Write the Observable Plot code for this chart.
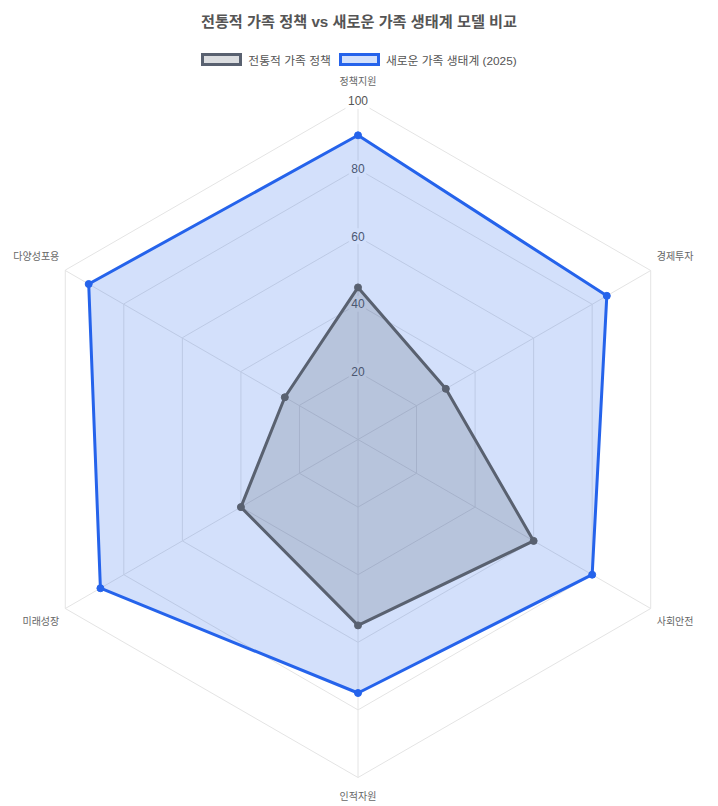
<!DOCTYPE html>
<html lang="ko">
<head>
<meta charset="utf-8">
<script src="https://cdn.jsdelivr.net/npm/d3@7"></script>
<script src="https://cdn.jsdelivr.net/npm/@observablehq/plot@0.6"></script>
<style>
  html, body { margin: 0; padding: 0; background: #fff; }
  body { width: 718px; height: 806px; overflow: hidden;
         font-family: "Liberation Sans", "Noto Sans CJK KR", sans-serif; }
  #title { height: 44px; line-height: 44px; text-align: center;
           font-size: 15.2px; font-weight: bold; color: #555; }
  #legend { height: 30px; display: flex; justify-content: center; align-items: center;
            gap: 8px; font-size: 11.8px; color: #555; }
  .item { display: flex; align-items: center; gap: 6px; }
  .swatch { box-sizing: border-box; width: 41px; height: 13px; border: 3px solid; }
  #chart svg { display: block; }
</style>
</head>
<body>
<div id="title"></div>
<div id="legend"></div>
<div id="chart"></div>
<script>
// Axes of the radar, clockwise from the top
const axes = ["정책지원", "경제투자", "사회안전", "인적자원", "미래성장", "다양성포용"];
// Scores per axis (0–100)
const traditional = [45, 30, 60, 55, 40, 25];
const ecosystem2025 = [90, 85, 80, 75, 88, 92];
const seriesNames = ["전통적 가족 정책", "새로운 가족 생태계 (2025)"];
const ticks = [20, 40, 60, 80, 100];
const titleText = "전통적 가족 정책 vs 새로운 가족 생태계 모델 비교";

const colors = [
  {stroke: "#596170", fill: "rgb(75,85,99)"},
  {stroke: "#2563eb", fill: "rgb(37,99,235)"}
];

document.getElementById("title").textContent = titleText;
const legend = document.getElementById("legend");
seriesNames.forEach((name, i) => {
  const item = document.createElement("div");
  item.className = "item";
  const sw = document.createElement("span");
  sw.className = "swatch";
  sw.style.borderColor = colors[i].stroke;
  sw.style.background = colors[i].fill.replace("rgb", "rgba").replace(")", ",0.2)");
  const label = document.createElement("span");
  label.textContent = name;
  item.append(sw, label);
  legend.append(item);
});

// Layout: pixels per score unit, plot size and centre
const W = 718, H = 732;
const R = 338;                 // radius of the 100 ring, px
const k = R / 100;
const cx = 357.5, cy = 365;

const angle = i => (i * 2 * Math.PI) / axes.length;
const px = (v, i) => v * Math.sin(angle(i));
const py = (v, i) => v * Math.cos(angle(i));

const ring = ticks.flatMap(t => axes.map((a, i) => ({t, x: px(t, i), y: py(t, i)})));
const spokes = axes.map((a, i) => ({x2: px(100, i), y2: py(100, i)}));

const series = [traditional, ecosystem2025].map((vals, s) =>
  vals.map((v, i) => ({s, axis: axes[i], v, x: px(v, i), y: py(v, i)}))
);

// Axis label placement around the outer ring
const axisLabels = axes.map((a, i) => {
  const sn = Math.sin(angle(i)), cs = Math.cos(angle(i));
  const side = Math.abs(sn) < 1e-6 ? 0 : Math.sign(sn);
  return {
    label: a, x: px(100, i), y: py(100, i),
    anchor: side === 0 ? "middle" : side > 0 ? "start" : "end",
    dx: side * 6,
    dy: side === 0 ? -cs * 19.5 : -cs * 27
  };
});

// Tick label backdrops (text width estimated from digit count)
const backdrops = ticks.map(t => {
  const half = (String(t).length * 6.7 / 2 + 2) / k;
  return {t, x1: -half, x2: half, y1: t - 8 / k, y2: t + 8 / k};
});

// Later datasets are painted first so the first one sits on top
const order = [1, 0];

const chart = Plot.plot({
  width: W, height: H,
  margin: 0,
  x: {domain: [-cx / k, (W - cx) / k], axis: null},
  y: {domain: [-(H - cy) / k, cy / k], axis: null},
  style: {fontFamily: '"Liberation Sans", "Noto Sans CJK KR", sans-serif', background: "transparent"},
  marks: [
    Plot.line(ring, {x: "x", y: "y", z: "t", curve: "linear-closed", stroke: "#e4e4e4", strokeWidth: 1}),
    Plot.link(spokes, {x1: 0, y1: 0, x2: "x2", y2: "y2", stroke: "#e4e4e4", strokeWidth: 1}),
    Plot.rect(backdrops, {x1: "x1", x2: "x2", y1: "y1", y2: "y2", fill: "white", fillOpacity: 0.9}),
    Plot.text(ticks, {x: 0, y: d => d, text: d => String(d), fill: "#555", fontSize: 12}),
    ...order.flatMap(s => [
      Plot.line(series[s], {x: "x", y: "y", curve: "linear-closed",
        fill: colors[s].fill, fillOpacity: 0.2,
        stroke: colors[s].stroke, strokeWidth: 3, strokeLinejoin: "miter"}),
      Plot.dot(series[s], {x: "x", y: "y", r: 3.5, fill: colors[s].stroke, stroke: colors[s].stroke, strokeWidth: 1})
    ]),
    ...axisLabels.map(d =>
      Plot.text([d], {x: "x", y: "y", text: "label", textAnchor: d.anchor,
        dx: d.dx, dy: d.dy, fill: "#666", fontSize: 10})
    )
  ]
});
document.getElementById("chart").append(chart);
</script>
</body>
</html>
